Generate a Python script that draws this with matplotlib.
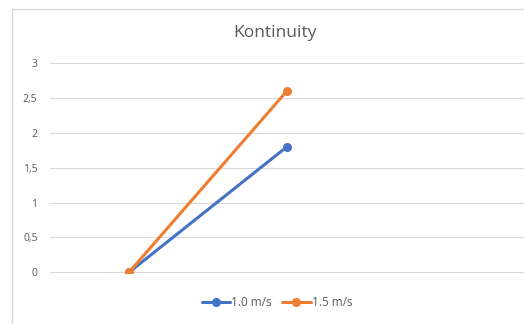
import matplotlib.pyplot as plt
from matplotlib.patches import Rectangle

# chart data
categories = ["", "", ""]
speed_10 = [0, 1.8]
speed_15 = [0, 2.6]
series_labels = ["1.0 m/s", "1.5 m/s"]
yticks = [0, 0.5, 1, 1.5, 2, 2.5, 3]
ytick_labels = ["0", "0,5", "1", "1,5", "2", "2,5", "3"]

plt.rcParams['font.family'] = ['Open Sans', 'DejaVu Sans']

fig = plt.figure(figsize=(5.24, 3.24), dpi=100)
# chart area border, cropped on the right and bottom like the screenshot
fig.patches.append(Rectangle((12 / 524, -0.05), 1.2, (324 - 9) / 324 + 0.05,
                             transform=fig.transFigure, fill=False,
                             edgecolor='#d9d9d9', linewidth=1.0))

ax = fig.add_axes([50 / 524, 51 / 324, 474 / 524, 210 / 324])

x = list(range(len(categories)))
ax.plot(x[:len(speed_10)], speed_10, color='#4472C4', linewidth=2.2,
        marker='o', markersize=5.5, label=series_labels[0], solid_capstyle='round')
ax.plot(x[:len(speed_15)], speed_15, color='#ED7D31', linewidth=2.2,
        marker='o', markersize=5.5, label=series_labels[1], solid_capstyle='round')

ax.set_xlim(-0.5, len(categories) - 0.5)
ax.set_ylim(-0.01, 3)
ax.set_yticks(yticks)
ax.set_yticklabels(ytick_labels)
ax.set_xticks([])
ax.grid(axis='y', color='#d9d9d9', linewidth=0.8)
ax.set_axisbelow(True)
for s in ax.spines.values():
    s.set_visible(False)
ax.tick_params(axis='y', length=0, pad=9, labelsize=7.5, labelcolor='#595959')

fig.text(275 / 524, (324 - 33) / 324, 'Kontinuity', ha='center', va='center',
         fontsize=12.5, color='#595959')

fig.legend(loc='center', bbox_to_anchor=(277 / 524, (324 - 303) / 324), ncol=2,
           frameon=False, fontsize=8.5, handlelength=2.4, handletextpad=0.1,
           columnspacing=0.9, labelcolor='#595959')

fig.savefig('out.png', dpi=100, facecolor='white')
